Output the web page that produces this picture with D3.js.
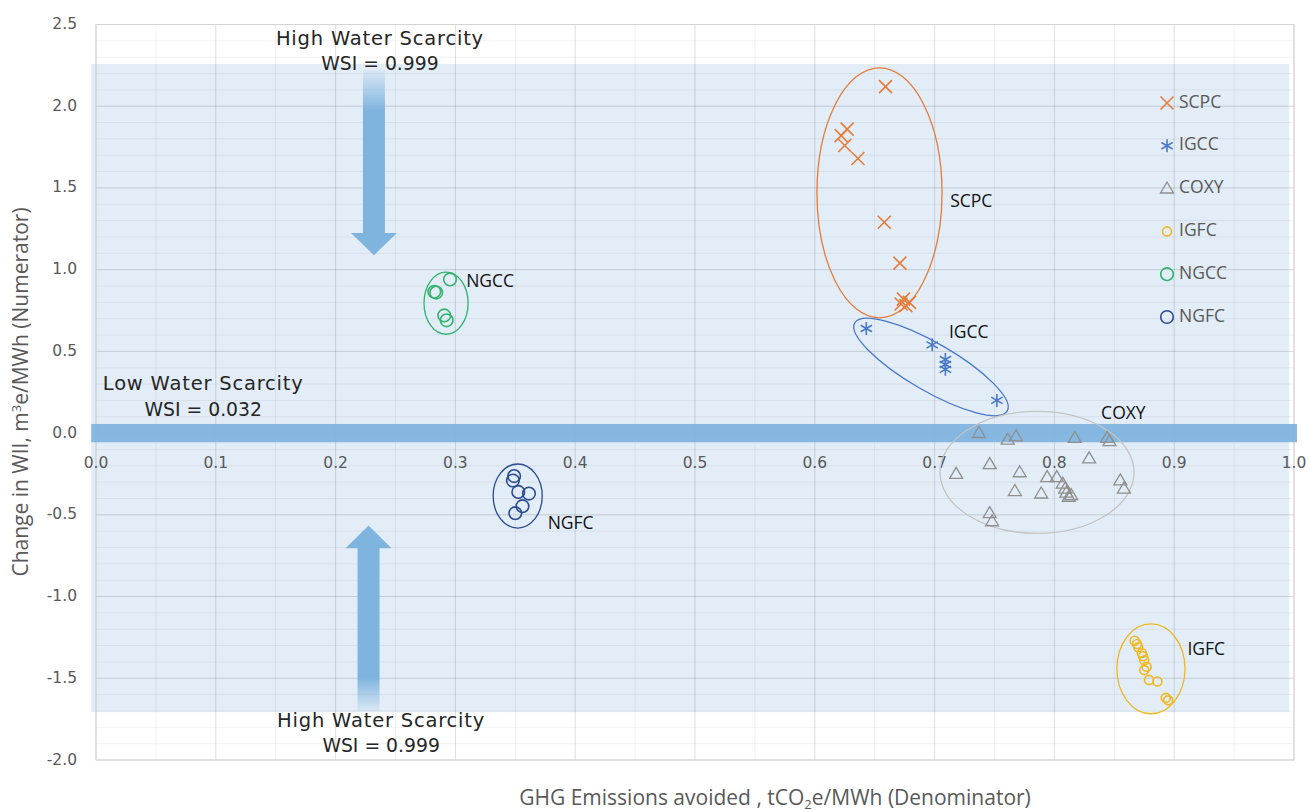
<!DOCTYPE html>
<html>
<head>
<meta charset="utf-8">
<script src="https://cdn.jsdelivr.net/npm/d3@7"></script>
<style>
  html, body { margin: 0; padding: 0; background: #ffffff; }
  svg { display: block; }
</style>
</head>
<body>
<svg id="chart" width="1309" height="812"></svg>
<script>
// ---- Data: [GHG avoided (tCO2e/MWh), change in WII (m3e/MWh)] ----
const scpc = [
  [0.659, 2.12], [0.627, 1.86], [0.622, 1.82], [0.625, 1.76], [0.636, 1.68],
  [0.658, 1.29], [0.671, 1.04], [0.674, 0.82], [0.676, 0.78], [0.679, 0.80], [0.672, 0.79]
];
const igcc = [
  [0.643, 0.64], [0.698, 0.54], [0.709, 0.45], [0.709, 0.42], [0.709, 0.39], [0.752, 0.20]
];
const coxy = [
  [0.737, 0.00], [0.761, -0.04], [0.768, -0.02], [0.817, -0.03], [0.844, -0.03], [0.846, -0.05],
  [0.718, -0.25], [0.746, -0.19], [0.771, -0.24], [0.767, -0.355], [0.789, -0.37],
  [0.794, -0.27], [0.802, -0.27], [0.807, -0.31], [0.809, -0.34], [0.810, -0.365],
  [0.812, -0.39], [0.814, -0.38], [0.829, -0.155], [0.855, -0.29], [0.858, -0.34],
  [0.746, -0.49], [0.748, -0.54]
];
const igfc = [
  [0.867, -1.27], [0.869, -1.29], [0.870, -1.31], [0.873, -1.345], [0.874, -1.365],
  [0.875, -1.39], [0.877, -1.43], [0.875, -1.45], [0.879, -1.51], [0.886, -1.52],
  [0.893, -1.62], [0.895, -1.635]
];
const ngcc = [
  [0.2955, 0.94], [0.2824, 0.865], [0.284, 0.86], [0.2907, 0.72], [0.2927, 0.69]
];
const ngfc = [
  [0.349, -0.263], [0.348, -0.29], [0.3525, -0.36], [0.3614, -0.37], [0.356, -0.447], [0.350, -0.49]
];

const seriesNames = ["SCPC", "IGCC", "COXY", "IGFC", "NGCC", "NGFC"];
const seriesValues = [scpc, igcc, coxy, igfc, ngcc, ngfc];

const xTicks = [0, 0.1, 0.2, 0.3, 0.4, 0.5, 0.6, 0.7, 0.8, 0.9, 1.0];
const yTicks = [-2, -1.5, -1, -0.5, 0, 0.5, 1, 1.5, 2, 2.5];

// Cluster outlines in data units: centre x, centre y, half-width, half-height, rotation (deg)
const clusterOutlines = [
  ["SCPC", 0.654, 1.47, 0.0522, 0.765, 0],
  ["IGCC", 0.697, 0.405, 0.0735, 0.147, 30],
  ["COXY", 0.7855, -0.24, 0.081, 0.373, 0],
  ["IGFC", 0.8806, -1.442, 0.0284, 0.275, 0],
  ["NGCC", 0.2922, 0.795, 0.0184, 0.19, 0],
  ["NGFC", 0.352, -0.385, 0.0205, 0.196, 0]
];
// Cluster name labels (data units, left anchor)
const clusterLabels = [
  ["SCPC", 0.713, 1.41], ["IGCC", 0.712, 0.61], ["COXY", 0.839, 0.115],
  ["IGFC", 0.911, -1.33], ["NGCC", 0.309, 0.925], ["NGFC", 0.377, -0.555]
];

// ---- Layout ----
const svg = d3.select("#chart");
const x = d3.scaleLinear().domain([0, 1]).range([96, 1294]);
const y = d3.scaleLinear().domain([-2, 2.5]).range([760, 24.5]);
const fmt = d => d3.format(".1f")(d).replace("\u2212", "-");

const colors = {
  SCPC: "#e57c3a", IGCC: "#4a78c8", COXY: "#a3a3a3",
  IGFC: "#f0b823", NGCC: "#34b36f", NGFC: "#2b4b93"
};

const defs = svg.append("defs");

// Light blue scarcity zone behind the data
svg.append("rect")
  .attr("x", x(-0.004)).attr("y", y(2.258))
  .attr("width", x(0.996) - x(-0.004))
  .attr("height", y(-1.707) - y(2.258))
  .attr("fill", "#e3edf7");

// Gridlines
const grid = svg.append("g");
const minorY = d3.range(-20, 26).map(d => d / 10);
const minorX = d3.range(0, 21).map(d => d / 20);
grid.selectAll(".hy").data(minorY).join("line")
  .attr("x1", x(0)).attr("x2", x(1))
  .attr("y1", d => y(d)).attr("y2", d => y(d))
  .attr("stroke", d => Math.abs(d * 2 - Math.round(d * 2)) < 1e-6 ? "rgba(0,0,0,0.14)" : "rgba(0,0,0,0.055)")
  .attr("stroke-width", 1);
grid.selectAll(".vx").data(minorX).join("line")
  .attr("y1", y(2.5)).attr("y2", y(-2))
  .attr("x1", d => x(d)).attr("x2", d => x(d))
  .attr("stroke", d => Math.abs(d * 10 - Math.round(d * 10)) < 1e-6 ? "rgba(0,0,0,0.13)" : "rgba(0,0,0,0.055)")
  .attr("stroke-width", 1);
svg.append("rect")
  .attr("x", x(0)).attr("y", y(2.5))
  .attr("width", x(1) - x(0)).attr("height", y(-2) - y(2.5))
  .attr("fill", "none").attr("stroke", "#d4d4d4").attr("stroke-width", 1);

// Low water scarcity band along zero
svg.append("rect")
  .attr("x", x(-0.004)).attr("y", y(0.056))
  .attr("width", x(1.0025) - x(-0.004))
  .attr("height", y(-0.056) - y(0.056))
  .attr("fill", "#7fb4df").attr("opacity", 0.95);

// Arrows with fading tails
function gradient(id, fadeAtStart) {
  const g = defs.append("linearGradient").attr("id", id)
    .attr("x1", 0).attr("y1", 0).attr("x2", 0).attr("y2", 1);
  if (fadeAtStart) {
    g.append("stop").attr("offset", "0%").attr("stop-color", "#7fb4df").attr("stop-opacity", 0.1);
    g.append("stop").attr("offset", "22%").attr("stop-color", "#7fb4df").attr("stop-opacity", 1);
    g.append("stop").attr("offset", "100%").attr("stop-color", "#7fb4df").attr("stop-opacity", 1);
  } else {
    g.append("stop").attr("offset", "0%").attr("stop-color", "#7fb4df").attr("stop-opacity", 1);
    g.append("stop").attr("offset", "82%").attr("stop-color", "#7fb4df").attr("stop-opacity", 1);
    g.append("stop").attr("offset", "100%").attr("stop-color", "#7fb4df").attr("stop-opacity", 0.1);
  }
}
gradient("fadeTop", true);
gradient("fadeBottom", false);

function arrow(cx, tail, base, tip, fill) {
  const X = x(cx), sw = 11, hw = 23;
  const yt = y(tail), yb = y(base), yp = y(tip);
  const p = d3.path();
  p.moveTo(X - sw, yt); p.lineTo(X + sw, yt); p.lineTo(X + sw, yb);
  p.lineTo(X + hw, yb); p.lineTo(X, yp); p.lineTo(X - hw, yb);
  p.lineTo(X - sw, yb); p.closePath();
  svg.append("path").attr("d", p.toString()).attr("fill", fill);
}
arrow(0.232, 2.22, 1.225, 1.088, "url(#fadeTop)");
arrow(0.2275, -1.70, -0.705, -0.565, "url(#fadeBottom)");

// Annotation text
const annFont = "'DejaVu Sans', sans-serif";
function ann(lines, cx, cy) {
  lines.forEach((t, i) => {
    svg.append("text")
      .attr("x", x(cx)).attr("y", y(cy) + i * 25.5)
      .attr("text-anchor", "middle").attr("dominant-baseline", "middle")
      .attr("font-family", annFont).attr("font-size", i === 0 ? 19.5 : 18.8)
      .attr("letter-spacing", i === 0 ? 0.8 : 0)
      .attr("fill", "#262626").text(t);
  });
}
ann(["High Water Scarcity", "WSI = 0.999"], 0.237, 2.41);
ann(["High Water Scarcity", "WSI = 0.999"], 0.238, -1.762);
ann(["Low Water Scarcity", "WSI = 0.032"], 0.0895, 0.295);

// Tick labels
const tickFont = "'DejaVu Sans', sans-serif";
svg.append("g").selectAll("text").data(yTicks).join("text")
  .attr("x", 77).attr("y", d => y(d))
  .attr("text-anchor", "end").attr("dominant-baseline", "middle")
  .attr("font-family", tickFont).attr("font-size", 15.5).attr("fill", "#595959")
  .text(fmt);
svg.append("g").selectAll("text").data(xTicks).join("text")
  .attr("x", d => x(d)).attr("y", y(0) + 30)
  .attr("text-anchor", "middle").attr("dominant-baseline", "middle")
  .attr("font-family", tickFont).attr("font-size", 15.5).attr("fill", "#595959")
  .text(fmt);

// Axis titles
const titleFont = "'Open Sans', sans-serif";
const yTitle = svg.append("text")
  .attr("transform", "translate(28,392) rotate(-90)")
  .attr("text-anchor", "middle")
  .attr("font-family", titleFont).attr("font-size", 21).attr("fill", "#595959");
yTitle.append("tspan").text("Change in WII, m");
yTitle.append("tspan").attr("dy", -7).attr("font-size", 13).text("3");
yTitle.append("tspan").attr("dy", 7).text("e/MWh (Numerator)");

const xTitle = svg.append("text")
  .attr("x", 775).attr("y", 805)
  .attr("text-anchor", "middle")
  .attr("font-family", titleFont).attr("font-size", 21).attr("fill", "#595959");
xTitle.append("tspan").text("GHG Emissions avoided , tCO");
xTitle.append("tspan").attr("dy", 4).attr("font-size", 13).text("2");
xTitle.append("tspan").attr("dy", -4).text("e/MWh (Denominator)");

// Cluster outlines
clusterOutlines.forEach(([name, cx, cy, rx, ry, rot]) => {
  svg.append("ellipse")
    .attr("cx", 0).attr("cy", 0)
    .attr("rx", x(cx + rx) - x(cx)).attr("ry", y(cy - ry) - y(cy))
    .attr("transform", `translate(${x(cx)},${y(cy)}) rotate(${rot})`)
    .attr("fill", "none")
    .attr("stroke", name === "COXY" ? "#c4c4c4" : colors[name])
    .attr("stroke-width", 1.3);
});

// Marker shapes
function marker(sel, name, px, py) {
  const c = colors[name];
  if (name === "SCPC") {
    const s = 6.5;
    sel.append("path").attr("d", `M${px - s},${py - s}L${px + s},${py + s}M${px - s},${py + s}L${px + s},${py - s}`)
      .attr("stroke", c).attr("stroke-width", 1.6).attr("fill", "none");
  } else if (name === "IGCC") {
    const s = 6.5, a = s * 0.87, b = s * 0.5;
    sel.append("path").attr("d",
      `M${px},${py - s}L${px},${py + s}M${px - a},${py - b}L${px + a},${py + b}M${px - a},${py + b}L${px + a},${py - b}`)
      .attr("stroke", c).attr("stroke-width", 1.6).attr("fill", "none");
  } else if (name === "COXY") {
    const s = 6.5, h = 11;
    sel.append("path").attr("d", `M${px},${py - h * 0.6}L${px + s},${py + h * 0.4}L${px - s},${py + h * 0.4}Z`)
      .attr("stroke", "#8f8f8f").attr("stroke-width", 1.3).attr("fill", "none");
  } else {
    const r = name === "IGFC" ? 4.5 : 6.3;
    sel.append("circle").attr("cx", px).attr("cy", py).attr("r", r)
      .attr("stroke", c).attr("stroke-width", 1.6).attr("fill", "none");
  }
}

// Data points
seriesNames.forEach((name, i) => {
  const g = svg.append("g");
  seriesValues[i].forEach(([vx, vy]) => marker(g, name, x(vx), y(vy)));
});

// Cluster name labels
clusterLabels.forEach(([name, lx, ly]) => {
  svg.append("text")
    .attr("x", x(lx)).attr("y", y(ly))
    .attr("dominant-baseline", "middle")
    .attr("font-family", titleFont).attr("font-size", 17.5).attr("fill", "#111111")
    .text(name);
});

// Legend
const legend = svg.append("g");
seriesNames.forEach((name, i) => {
  const ly = 103 + i * 42.8;
  marker(legend, name, 1167, ly);
  legend.append("text")
    .attr("x", 1179).attr("y", ly)
    .attr("dominant-baseline", "middle")
    .attr("font-family", titleFont).attr("font-size", 17.5).attr("fill", "#595959")
    .text(name);
});
</script>
</body>
</html>
